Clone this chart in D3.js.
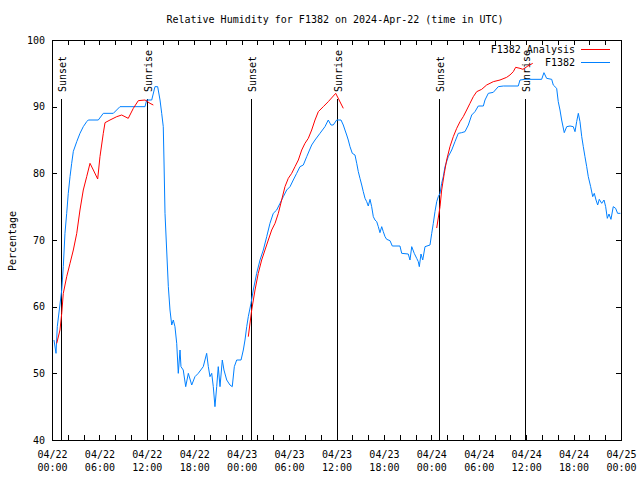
<!DOCTYPE html>
<html>
<head>
<meta charset="utf-8">
<script src="https://cdn.jsdelivr.net/npm/d3@7"></script>
<style>
  html, body { margin: 0; padding: 0; background: #fff; }
  svg text { font-family: "DejaVu Sans Mono", "Liberation Mono", monospace; font-size: 10px; fill: #000; }
</style>
</head>
<body>
<svg id="chart" width="640" height="480"></svg>
<script>
// ---- Data (hours since 2024-04-22 00:00 UTC) ----
const titleText = "Relative Humidity for F1382 on 2024-Apr-22 (time in UTC)";
const yLabel = "Percentage";
const seriesNames = ["F1382 Analysis", "F1382"];

const blueHours = [0.25,0.51,0.67,0.92,1.23,1.43,1.64,1.86,2.06,2.28,2.49,2.70,3.13,3.54,3.96,4.39,4.59,5.86,6.49,7.76,8.60,11.77,11.98,
  12.62,13.03,13.37,13.67,13.88,14.08,14.17,14.30,14.51,14.72,14.93,15.15,15.35,15.56,15.78,15.98,16.20,16.32,16.61,16.92,17.25,17.68,18.09,18.51,19.14,19.57,19.78,19.99,20.21,20.41,20.62,20.84,21.04,21.26,21.55,21.76,22.11,22.52,22.81,23.07,23.37,23.92,24.21,24.42,24.64,24.84,
  25.18,25.47,25.90,26.32,26.74,27.17,27.58,28.00,28.43,28.85,29.27,29.70,30.12,30.53,30.96,31.38,31.80,32.23,32.86,33.28,33.91,34.54,34.96,35.30,35.59,36.02,36.57,
  36.86,37.07,37.29,37.49,37.71,38.00,38.34,38.56,38.76,38.97,39.19,39.39,39.61,39.82,40.02,40.24,40.45,40.66,40.87,41.09,41.29,41.50,41.72,41.92,42.14,42.35,42.77,43.06,44.03,44.25,45.08,45.30,45.52,45.84,46.15,46.35,46.48,46.69,46.91,47.20,47.83,48.05,48.25,48.46,48.68,48.88,
  49.10,49.31,49.51,49.73,50.14,50.58,50.99,51.41,51.84,52.26,52.68,53.11,53.52,53.94,54.58,54.79,55.21,55.84,56.47,57.11,59.00,59.22,59.85,61.96,62.25,62.59,63.23,63.43,63.86,64.06,64.28,64.49,64.82,65.13,65.55,65.96,66.18,66.39,66.60,66.81,67.03,67.23,67.44,67.66,67.86,68.16,68.42,68.62,68.84,69.05,69.25,69.56,69.85,70.06,70.27,70.48,70.73,71.02,71.32,71.57,71.93];
const blueValues = [55,53,57,59.5,62.5,66,71,74,77,79.5,81.5,83.3,84.75,86,87,87.75,88,88,89,89,90,90,91,
  91,93,93,91,89,87,82,74,68.5,63,59.5,57.25,58,57,54.5,50,53.5,51,50.5,48,50,48.25,49.5,50,51,53,51,49.5,50,48,45,48,51,48,52,50.5,49,48.25,48,51,52,52,53.5,55,57,58.5,
  60.5,62.5,65,67,68.5,70.5,72.5,74,74.5,75.5,76.5,77.5,78,79,80,81,81.25,82.5,84.25,85,86,87,88,87.25,87.25,88,88,
  87.25,86.5,85.75,85,84,83,82.75,81.5,80.25,79.25,78.25,77.25,76.25,75.75,75.1,76.1,75,73.5,73,72.75,72,71.1,72,71.25,70.5,70.1,69.9,69.1,69.1,68,67.9,67,69,68,67.25,66.75,66,67.9,67,69,69.25,71,72.5,74.25,75.75,76.5,
  77,78.5,79.5,81,82.5,83.5,84.75,86,86.1,86.25,87.25,88.75,89.25,90.1,90.1,91,92,92.15,93,93.1,93.1,94,94.1,94.1,95.1,94.25,94.1,93.25,92.75,90.75,89.5,88,86.1,87,87.1,87,86.25,87.75,89,87.75,85.5,84,82.5,81,79.5,78,76.5,77,76,75.25,76.1,75.5,76,75,73.25,73.9,73.1,75,74.75,74,74];

// analysis series: null separates the three nightly runs
const redHours = [0.60,1.01,1.23,1.43,1.86,2.28,2.70,3.13,3.54,3.96,4.39,4.81,5.23,5.78,6.07,6.49,6.71,7.34,8.19,8.82,9.65,10.29,10.92,11.77,12.40,12.82,
  null,
  24.84,25.27,25.69,26.10,26.53,26.95,27.37,27.80,28.22,28.64,29.06,29.48,29.90,30.33,30.75,31.17,31.60,32.01,32.43,32.86,33.28,33.70,34.33,34.96,35.90,36.86,
  null,
  48.68,49.10,49.31,49.64,49.94,50.36,50.78,51.21,51.63,52.04,52.47,52.89,53.31,53.74,54.37,55.00,55.84,56.69,57.53,57.95,58.37,58.67,59.22,59.59,60.22,60.83];
const redValues = [54.5,56.5,59,62,64.5,66.5,68.5,71,74.5,77.5,79.5,81.5,80.5,79.15,82.5,86,87.6,88,88.5,88.75,88.25,89.75,90.9,91,90.5,90.25,
  null,
  55.5,59.5,62.5,65,67,68.5,70,71.5,72.5,74,76,78,79.25,80,81,82,83.5,84.5,85.25,86.5,88,89.25,90,90.75,92,89.75,
  null,
  71.8,75,77.5,80,82,84,85.5,86.75,87.75,88.5,89.5,90.5,91.5,92.25,92.6,93.25,93.75,94,94.4,94.75,95.25,95.9,95.75,95.6,96.1,96.5];

const eventHours = [1.15, 12.0, 25.15, 36.05, 49.0, 59.9];
const eventLabels = ["Sunset", "Sunrise", "Sunset", "Sunrise", "Sunset", "Sunrise"];
const yTicks = [40, 50, 60, 70, 80, 90, 100];

// ---- Layout ----
const M = { left: 52, right: 621, top: 40, bottom: 440 };
const t0 = Date.UTC(2024, 3, 22);
const toDate = h => new Date(t0 + h * 3600e3);

const svg = d3.select("#chart");
svg.append("rect").attr("width", 640).attr("height", 480).attr("fill", "#fff");

const x = d3.scaleUtc().domain([toDate(0), toDate(72)]).range([M.left, M.right]);
const y = d3.scaleLinear().domain([40, 100]).range([M.bottom, M.top]);

// title & y label
svg.append("text").attr("x", 335).attr("y", 23).attr("text-anchor", "middle").text(titleText);
svg.append("text").attr("transform", "translate(16,241) rotate(-90)").attr("text-anchor", "middle").text(yLabel);

// axes (ticks inward)
const minorTicks = d3.utcHour.every(2).range(toDate(0), toDate(72.01));
const majorTicks = d3.utcHour.every(6).range(toDate(0), toDate(72.01));

const gb = svg.append("g").attr("transform", `translate(0,${M.bottom})`)
  .call(d3.axisBottom(x).tickValues(minorTicks).tickSize(-5).tickFormat(""));
const gt = svg.append("g").attr("transform", `translate(0,${M.top})`)
  .call(d3.axisTop(x).tickValues(minorTicks).tickSize(-5).tickFormat(""));
const gl = svg.append("g").attr("transform", `translate(${M.left},0)`)
  .call(d3.axisLeft(y).tickValues(yTicks).tickSize(-5).tickPadding(7).tickFormat(d3.format("d")));
const gr = svg.append("g").attr("transform", `translate(${M.right},0)`)
  .call(d3.axisRight(y).tickValues(yTicks).tickSize(-5).tickFormat(""));
[gb, gt, gl, gr].forEach(g => {
  g.select(".domain").remove();
  g.selectAll("line").attr("stroke", "#000").attr("shape-rendering", "crispEdges");
  g.selectAll("text").attr("font-family", null).attr("font-size", null);
});

// x tick labels (two lines)
const fmtDate = d3.utcFormat("%m/%d"), fmtTime = d3.utcFormat("%H:%M");
const gx = svg.append("g").attr("transform", `translate(0,${M.bottom})`)
  .call(d3.axisBottom(x).tickValues(majorTicks).tickSize(0).tickFormat(""));
gx.select(".domain").remove();
gx.selectAll(".tick text").each(function(d) {
  const t = d3.select(this).attr("y", null).attr("dy", null).attr("font-family", null).attr("font-size", null);
  t.append("tspan").attr("x", 0).attr("y", 18).text(fmtDate(d));
  t.append("tspan").attr("x", 0).attr("y", 31).text(fmtTime(d));
});

// frame
svg.append("rect").attr("x", M.left + 0.5).attr("y", M.top + 0.5)
  .attr("width", M.right - M.left).attr("height", M.bottom - M.top)
  .attr("fill", "none").attr("stroke", "#000").attr("shape-rendering", "crispEdges");

// sunrise/sunset markers
eventHours.forEach((h, i) => {
  const xx = Math.round(x(toDate(h))) + 0.5;
  svg.append("line").attr("x1", xx).attr("x2", xx).attr("y1", 99).attr("y2", M.bottom)
    .attr("stroke", "#000").attr("shape-rendering", "crispEdges");
  svg.append("text").attr("transform", `translate(${xx + 4},92) rotate(-90)`)
    .attr("text-anchor", "start").text(eventLabels[i]);
});

// series
const blue = blueHours.map((h, i) => [h, blueValues[i]]);
const red = redHours.map((h, i) => [h, redValues[i]]);
const line = d3.line()
  .defined(d => d[0] !== null && d[1] !== null)
  .x(d => x(toDate(d[0])))
  .y(d => y(d[1]));

svg.append("path").datum(blue).attr("d", line)
  .attr("fill", "none").attr("stroke", "#0080ff").attr("stroke-width", 1);
svg.append("path").datum(red).attr("d", line)
  .attr("fill", "none").attr("stroke", "#ff0000").attr("stroke-width", 1);

// legend
const legend = [
  { name: seriesNames[0], color: "#ff0000", y: 49.5 },
  { name: seriesNames[1], color: "#0080ff", y: 62.5 }
];
legend.forEach(l => {
  svg.append("text").attr("x", 575).attr("y", l.y + 3.5).attr("text-anchor", "end").text(l.name);
  svg.append("line").attr("x1", 581).attr("x2", 610).attr("y1", l.y).attr("y2", l.y)
    .attr("stroke", l.color).attr("stroke-width", 1).attr("shape-rendering", "crispEdges");
});
</script>
</body>
</html>
